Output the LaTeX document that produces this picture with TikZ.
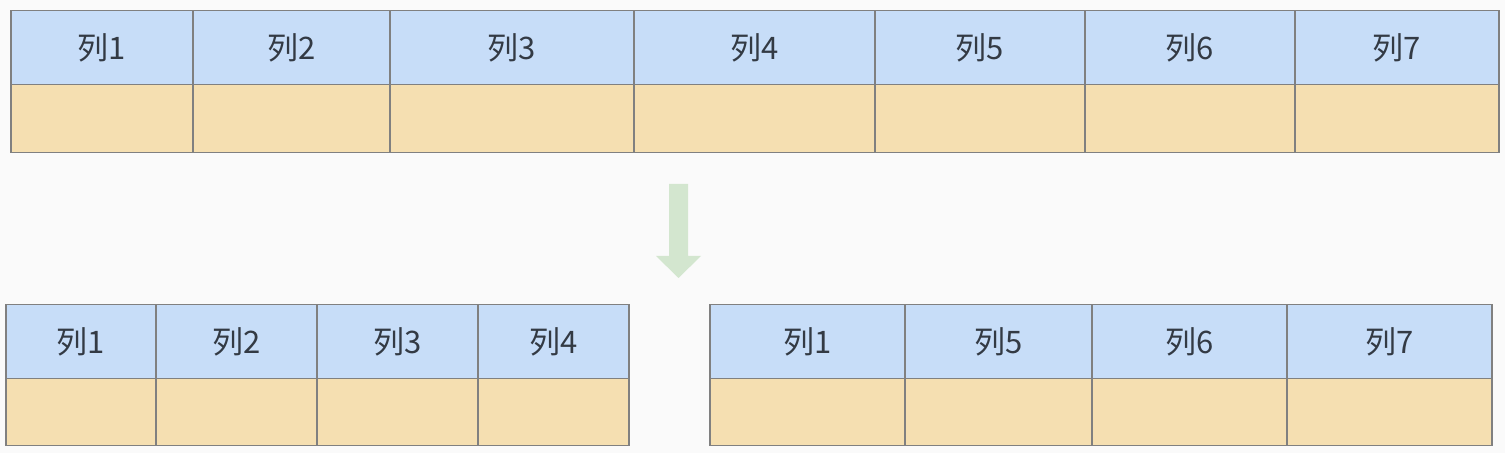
\documentclass[tikz,border=0pt]{standalone}
\usepackage{fontspec}
\newfontfamily\cjk{Noto Sans CJK SC}
\definecolor{headblue}{HTML}{C7DDF8}
\definecolor{cellsand}{HTML}{F5DFB1}
\definecolor{gridgray}{HTML}{808080}
\definecolor{arrowgreen}{HTML}{D3E6CF}
\definecolor{labelgray}{HTML}{333A44}
\definecolor{pagegray}{HTML}{FAFAFA}
\tikzset{
  cell/.style={draw=gridgray, line width=0.75pt, inner sep=0pt, anchor=north west},
  headcell/.style={cell, fill=headblue, text=labelgray, font=\cjk\fontsize{15.5}{18}\selectfont},
  datacell/.style={cell, fill=cellsand},
}
\begin{document}
\begin{tikzpicture}[x=0.5pt, y=-0.5pt]
  \fill[pagegray] (0,0) rectangle (1505,453);
  \useasboundingbox (0,0) rectangle (1505,453);
  % original table
  \foreach \l/\r/\t [count=\i] in {10/192/1, 192/389/2, 389/633/3, 633/874/4, 874/1084/5, 1084/1294/6, 1294/1498/7} {
    \pgfmathsetmacro\w{(\r-\l)*0.5}
    \node[headcell, minimum width=\w pt, minimum height=37pt] (top-h\i) at (\l,10) {列\t};
    \node[datacell, minimum width=\w pt, minimum height=34pt] (top-d\i) at (\l,84) {};
  }
  % split arrow
  \coordinate (split-top) at (678.5,184);
  \coordinate (split-tip) at (678.5,278);
  \fill[arrowgreen] ([xshift=-4.75pt]split-top) -- ([xshift=4.75pt]split-top)
    -- (688,256) -- (701,256) -- (split-tip) -- (656,256) -- (669,256) -- cycle;
  % left part
  \foreach \l/\r/\t [count=\i] in {5/155/1, 155/316/2, 316/477/3, 477/628/4} {
    \pgfmathsetmacro\w{(\r-\l)*0.5}
    \node[headcell, minimum width=\w pt, minimum height=37pt] (left-h\i) at (\l,304) {列\t};
    \node[datacell, minimum width=\w pt, minimum height=33.5pt] (left-d\i) at (\l,378) {};
  }
  % right part
  \foreach \l/\r/\t [count=\i] in {709/904/1, 904/1091/5, 1091/1286/6, 1286/1491/7} {
    \pgfmathsetmacro\w{(\r-\l)*0.5}
    \node[headcell, minimum width=\w pt, minimum height=37pt] (right-h\i) at (\l,304) {列\t};
    \node[datacell, minimum width=\w pt, minimum height=33.5pt] (right-d\i) at (\l,378) {};
  }
\end{tikzpicture}
\end{document}
